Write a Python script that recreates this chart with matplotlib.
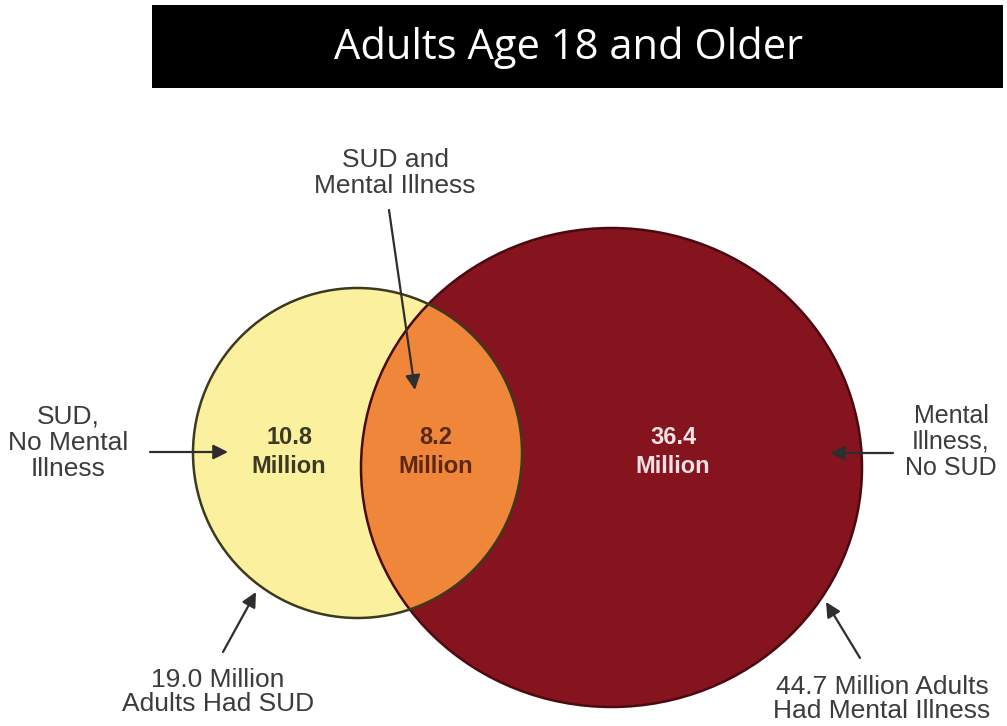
#!/usr/bin/env python3

import matplotlib.pyplot as plt
from matplotlib.patches import Ellipse, Rectangle


TITLE = "Adults Age 18 and Older"

# region counts (millions): SUD only, both, mental illness only
REGION_VALUES = [10.8, 8.2, 36.4]
# set totals (millions): SUD, mental illness
SET_TOTALS = [19.0, 44.7]

OUTER_LABELS = [
    "SUD,\nNo Mental\nIllness",
    "SUD and\nMental Illness",
    "Mental\nIllness,\nNo SUD",
]

LABEL_FONT = ["Liberation Sans Narrow", "Liberation Sans", "DejaVu Sans"]
TEXT_GREY = "#3c3c3c"
ARROW = dict(arrowstyle="-|>", color="#2e2e2e", lw=1.6, mutation_scale=22,
             shrinkA=0, shrinkB=0)


def label(ax, x, y, text, size=19, spacing=1.12, **kw):
    ax.text(x, y, text, ha="center", va="center", color=kw.pop("color", TEXT_GREY),
            fontsize=size, family=LABEL_FONT, linespacing=spacing, **kw)


def main() -> int:
    fig = plt.figure(figsize=(10.07, 7.26), dpi=100)
    ax = fig.add_axes((0, 0, 1, 1))
    ax.set_xlim(0, 1007)
    ax.set_ylim(726, 0)
    ax.axis("off")

    # title banner
    ax.add_patch(Rectangle((152, 5), 851, 83, facecolor="black", edgecolor="none"))
    ax.text(568, 48, TITLE, color="white", fontsize=30, family=["Open Sans", "DejaVu Sans"],
            ha="center", va="center")

    # circles (pixel layout)
    small = dict(xy=(357.5, 453), width=329, height=330)
    big = dict(xy=(611.5, 467.5), width=501, height=479)

    ax.add_patch(Ellipse(**small, facecolor="#fbf09e", edgecolor="none", zorder=1))
    big_fill = Ellipse(**big, facecolor="#86141f", edgecolor="none", zorder=2)
    ax.add_patch(big_fill)
    lens = Ellipse(**small, facecolor="#f08639", edgecolor="none", zorder=3)
    ax.add_patch(lens)
    lens.set_clip_path(big_fill)
    ax.add_patch(Ellipse(**big, facecolor="none", edgecolor="#4a0a10", lw=1.8, zorder=4))
    ax.add_patch(Ellipse(**small, facecolor="none", edgecolor="#3b3a1c", lw=1.8, zorder=5))

    # region values
    value_pos = [(289, 452), (436, 452), (673, 452)]
    value_colors = ["#3a3a22", "#5c2812", "#f6e2e4"]
    for (x, y), val, col in zip(value_pos, REGION_VALUES, value_colors):
        label(ax, x, y, f"{val:.1f}\nMillion", size=17, spacing=1.3, color=col,
              fontweight="bold", zorder=6)

    # outer labels with arrows
    label(ax, 68, 443, OUTER_LABELS[0])
    ax.annotate("", xy=(228, 452), xytext=(150, 452), arrowprops=ARROW, zorder=7)

    label(ax, 951, 442, OUTER_LABELS[2], size=18)
    ax.annotate("", xy=(830, 453), xytext=(893, 453), arrowprops=ARROW, zorder=7)

    label(ax, 395, 173, OUTER_LABELS[1])
    ax.annotate("", xy=(415, 390), xytext=(389, 210), arrowprops=ARROW, zorder=7)

    # set totals
    label(ax, 218, 692, f"{SET_TOTALS[0]:.1f} Million\nAdults Had SUD", spacing=1.05)
    ax.annotate("", xy=(256, 592), xytext=(223, 652), arrowprops=ARROW, zorder=7)

    label(ax, 882, 699, f"{SET_TOTALS[1]:.1f} Million Adults\nHad Mental Illness", spacing=1.0)
    ax.annotate("", xy=(826, 602), xytext=(860, 658), arrowprops=ARROW, zorder=7)

    fig.savefig("out.png", dpi=100)
    plt.close(fig)
    return 0


if __name__ == "__main__":
    raise SystemExit(main())
